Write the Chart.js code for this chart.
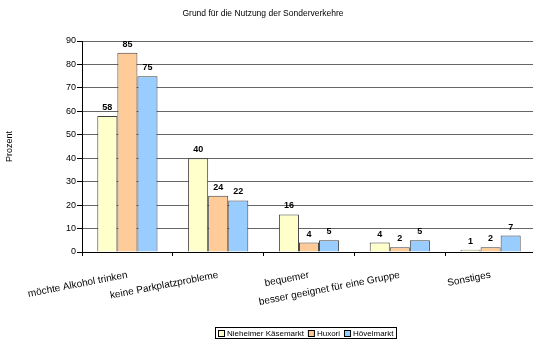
<!DOCTYPE html>
<html>
<head>
<meta charset="utf-8">
<title>Grund für die Nutzung der Sonderverkehre</title>
<script src="https://cdn.jsdelivr.net/npm/chart.js"></script>
<style>
  html, body { margin: 0; padding: 0; overflow: hidden; background: #fff; }
  #wrap { width: 536px; height: 340px; }
</style>
</head>
<body>
<div id="wrap"><canvas id="chart"></canvas></div>
<script>
const chartTitle = 'Grund für die Nutzung der Sonderverkehre';
const yTitle = 'Prozent';
const categories = ['möchte Alkohol trinken', 'keine Parkplatzprobleme', 'bequemer', 'besser geeignet für eine Gruppe', 'Sonstiges'];
const seriesNames = ['Nieheimer Käsemarkt', 'Huxori', 'Hövelmarkt'];
const nieheim = [58, 40, 16, 4, 1];
const huxori = [85, 24, 4, 2, 2];
const hoevelmarkt = [75, 22, 5, 5, 7];
const yMin = 0, yMax = 90, yStep = 10;

const colors = ['#FFFFCC', '#FFCC99', '#99CCFF'];
const FONT = '"Liberation Sans", Arial, sans-serif';

// value labels, title and boxed legend
const decor = {
  id: 'decor',
  afterDatasetsDraw(chart) {
    const ctx = chart.ctx;
    ctx.save();
    ctx.font = 'bold 9px ' + FONT;
    ctx.fillStyle = '#000';
    ctx.textAlign = 'center';
    ctx.textBaseline = 'alphabetic';
    chart.data.datasets.forEach((ds, i) => {
      chart.getDatasetMeta(i).data.forEach((bar, j) => {
        ctx.fillText(String(ds.data[j]), bar.x, bar.y - 6);
      });
    });
    ctx.restore();
  },
  afterDraw(chart) {
    const ctx = chart.ctx;
    ctx.save();
    ctx.fillStyle = '#000';
    ctx.font = '8.5px ' + FONT;
    ctx.textAlign = 'center';
    ctx.textBaseline = 'middle';
    ctx.fillText(chartTitle, 263, 14);

    // legend
    ctx.font = '8px ' + FONT;
    const pad = 3, sq = 6, gapSq = 3, gapItem = 4;
    const widths = chart.data.datasets.map(d => ctx.measureText(d.label).width);
    let total = pad * 2;
    widths.forEach((w, i) => { total += sq + gapSq + w + (i ? gapItem : 0); });
    const top = 327, h = 11;
    let x = Math.round(306 - total / 2);
    ctx.strokeStyle = '#000';
    ctx.lineWidth = 1;
    ctx.strokeRect(x + 0.5, top + 0.5, Math.round(total), h);
    x += pad;
    ctx.textAlign = 'left';
    chart.data.datasets.forEach((d, i) => {
      if (i) x += gapItem;
      const sy = Math.round(top + h / 2 - sq / 2) + 0.5;
      ctx.fillStyle = d.backgroundColor;
      ctx.fillRect(x + 0.5, sy, sq, sq);
      ctx.strokeStyle = '#000';
      ctx.strokeRect(x + 0.5, sy, sq, sq);
      x += sq + gapSq;
      ctx.fillStyle = '#000';
      ctx.fillText(d.label, x, top + h / 2 + 1);
      x += widths[i];
    });
    ctx.restore();
  }
};

const seriesData = [nieheim, huxori, hoevelmarkt];

new Chart(document.getElementById('chart'), {
  type: 'bar',
  data: {
    labels: categories,
    datasets: seriesNames.map((name, i) => ({
      label: name,
      data: seriesData[i],
      backgroundColor: colors[i],
      borderColor: '#404040',
      borderWidth: 1,
      categoryPercentage: 0.663,
      barPercentage: 1
    }))
  },
  options: {
    responsive: true,
    maintainAspectRatio: false,
    animation: false,
    layout: { padding: { top: 41, left: 0, right: 0, bottom: 0 } },
    plugins: {
      legend: { display: false },
      title: { display: false },
      tooltip: { enabled: false }
    },
    scales: {
      x: {
        afterFit(scale) { scale.height = 88; },
        grid: { display: true, drawOnChartArea: false, offset: true, tickLength: 4, color: '#000' },
        border: { color: '#000', width: 1 },
        ticks: {
          autoSkip: false, minRotation: 11, maxRotation: 11, padding: 13,
          color: '#000', font: { family: FONT, size: 10 }
        }
      },
      y: {
        min: yMin, max: yMax,
        afterFit(scale) { scale.width = 82; },
        grid: { color: '#666', tickColor: '#000', tickLength: 5 },
        border: { color: '#000', width: 1 },
        ticks: { stepSize: yStep, padding: 1, color: '#000', font: { family: FONT, size: 9 } },
        title: { display: true, text: yTitle, color: '#000', font: { family: FONT, size: 9 } }
      }
    }
  },
  plugins: [decor]
});
</script>
</body>
</html>
